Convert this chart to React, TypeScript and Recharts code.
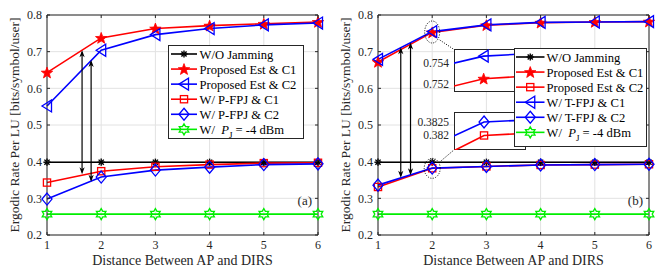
import React from 'react';
import { LineChart, Line, XAxis, YAxis, CartesianGrid, ReferenceLine, ReferenceDot } from 'recharts';

// distance between AP and DIRS (x axis)
const DIST = [1, 2, 3, 4, 5, 6];
const Y_TICKS = [0.2, 0.3, 0.4, 0.5, 0.6, 0.7, 0.8];

// panel (a)
const A_WO_JAM = [0.3985, 0.3985, 0.3985, 0.3985, 0.3985, 0.3985];
const A_EST_C1 = [0.643, 0.7375, 0.763, 0.771, 0.776, 0.781];
const A_EST_C2 = [0.552, 0.704, 0.7465, 0.763, 0.773, 0.778];
const A_PFPJ_C1 = [0.343, 0.374, 0.386, 0.392, 0.396, 0.397];
const A_PFPJ_C2 = [0.298, 0.358, 0.377, 0.385, 0.392, 0.394];
const A_PJ = [0.257, 0.257, 0.257, 0.257, 0.257, 0.257];

// panel (b)
const B_WO_JAM = [0.3985, 0.3985, 0.3985, 0.3985, 0.3985, 0.3985];
const B_EST_C1 = [0.672, 0.7525, 0.772, 0.779, 0.781, 0.782];
const B_EST_C2 = [0.331, 0.382, 0.387, 0.391, 0.392, 0.393];
const B_TFPJ_C1 = [0.679, 0.7547, 0.773, 0.78, 0.781, 0.782];
const B_TFPJ_C2 = [0.336, 0.3825, 0.387, 0.391, 0.392, 0.393];
const B_PJ = [0.257, 0.257, 0.257, 0.257, 0.257, 0.257];

// double arrows (annotation positions in data units)
const A_ARROWS = [
  { x: 1.647, top: 0.704, bottom: 0.366 },
  { x: 1.814, top: 0.677, bottom: 0.345 },
];
const B_ARROWS = [
  { x: 1.42, top: 0.712, bottom: 0.356 },
  { x: 1.6, top: 0.725, bottom: 0.363 },
];

const W = 331;
const H = 268;
const PLOT_L = 47;
const PLOT_R = 318;
const PLOT_T = 15;
const PLOT_B = 235;
const AXIS = '#262626';
const FONT = '"Liberation Serif", "Times New Roman", serif';

const RED = '#ff0000';
const BLUE = '#0000ff';
const GREEN = '#00ee00';

type Kind = 'asterisk' | 'star' | 'triLeft' | 'square' | 'diamond' | 'hexagram';

function starPoints(cx: number, cy: number, n: number, R: number, r: number) {
  const pts: string[] = [];
  for (let i = 0; i < n * 2; i++) {
    const a = (-90 + (i * 180) / n) * (Math.PI / 180);
    const rr = i % 2 === 0 ? R : r;
    pts.push(`${cx + rr * Math.cos(a)},${cy + rr * Math.sin(a)}`);
  }
  return pts.join(' ');
}

function Marker({ kind, cx, cy, color }: { kind: Kind; cx: number; cy: number; color: string }) {
  const sw = 1.3;
  switch (kind) {
    case 'asterisk': {
      const r = 3.6;
      const d = r * 0.72;
      return (
        <g stroke={color} strokeWidth={1.4}>
          <line x1={cx - r} x2={cx + r} y1={cy} y2={cy} />
          <line x1={cx} x2={cx} y1={cy - r} y2={cy + r} />
          <line x1={cx - d} x2={cx + d} y1={cy - d} y2={cy + d} />
          <line x1={cx - d} x2={cx + d} y1={cy + d} y2={cy - d} />
        </g>
      );
    }
    case 'star':
      return <polygon points={starPoints(cx, cy + 0.5, 5, 6, 2.5)} fill={color} stroke={color} strokeWidth={0.8} />;
    case 'triLeft':
      return (
        <polygon
          points={`${cx - 5},${cy} ${cx + 4.5},${cy - 6} ${cx + 4.5},${cy + 6}`}
          fill="none"
          stroke={color}
          strokeWidth={sw}
        />
      );
    case 'square':
      return <rect x={cx - 3.6} y={cy - 3.6} width={7.2} height={7.2} fill="none" stroke={color} strokeWidth={sw} />;
    case 'diamond':
      return (
        <polygon
          points={`${cx},${cy - 6} ${cx + 5},${cy} ${cx},${cy + 6} ${cx - 5},${cy}`}
          fill="none"
          stroke={color}
          strokeWidth={sw}
        />
      );
    case 'hexagram':
      return <polygon points={starPoints(cx, cy, 6, 5.5, 3.2)} fill="none" stroke={color} strokeWidth={sw} />;
  }
  return null;
}

interface Series {
  key: string;
  values: number[];
  color: string;
  kind: Kind;
  label: React.ReactNode;
}

const PJ_LABEL = (
  <>
    W/{'\u00a0\u00a0'}
    <tspan fontStyle="italic">P</tspan>
    <tspan fontSize={9} dy={4}>J</tspan>
    <tspan dy={-4}> = -4 dBm</tspan>
  </>
);

const A_SERIES: Series[] = [
  { key: 'woJam', values: A_WO_JAM, color: '#000', kind: 'asterisk', label: 'W/O Jamming' },
  { key: 'estC1', values: A_EST_C1, color: RED, kind: 'star', label: 'Proposed Est & C1' },
  { key: 'estC2', values: A_EST_C2, color: BLUE, kind: 'triLeft', label: 'Proposed Est & C2' },
  { key: 'pC1', values: A_PFPJ_C1, color: RED, kind: 'square', label: 'W/ P-FPJ & C1' },
  { key: 'pC2', values: A_PFPJ_C2, color: BLUE, kind: 'diamond', label: 'W/ P-FPJ & C2' },
  { key: 'pj', values: A_PJ, color: GREEN, kind: 'hexagram', label: PJ_LABEL },
];

const B_SERIES: Series[] = [
  { key: 'woJam', values: B_WO_JAM, color: '#000', kind: 'asterisk', label: 'W/O Jamming' },
  { key: 'estC1', values: B_EST_C1, color: RED, kind: 'star', label: 'Proposed Est & C1' },
  { key: 'estC2', values: B_EST_C2, color: RED, kind: 'square', label: 'Proposed Est & C2' },
  { key: 'tC1', values: B_TFPJ_C1, color: BLUE, kind: 'triLeft', label: 'W/ T-FPJ & C1' },
  { key: 'tC2', values: B_TFPJ_C2, color: BLUE, kind: 'diamond', label: 'W/ T-FPJ & C2' },
  { key: 'pj', values: B_PJ, color: GREEN, kind: 'hexagram', label: PJ_LABEL },
];

function toRows(series: Series[]) {
  return DIST.map((x, i) => {
    const row: Record<string, number> = { x };
    series.forEach((s) => (row[s.key] = s.values[i]));
    return row;
  });
}

const A_ROWS = toRows(A_SERIES);
const B_ROWS = toRows(B_SERIES);

const XTick = (p: any) => {
  const { x, y, payload } = p;
  return (
    <g>
      <line x1={x} x2={x} y1={PLOT_B} y2={PLOT_B - 3} stroke={AXIS} />
      <line x1={x} x2={x} y1={PLOT_T} y2={PLOT_T + 3} stroke={AXIS} />
      <text x={x} y={y} dy="0.71em" textAnchor="middle" fontSize={12} fontFamily={FONT} fill={AXIS}>
        {payload.value}
      </text>
    </g>
  );
};

const YTick = (p: any) => {
  const { x, y, payload } = p;
  return (
    <g>
      <line x1={PLOT_L} x2={PLOT_L + 3} y1={y} y2={y} stroke={AXIS} />
      <line x1={PLOT_R} x2={PLOT_R - 3} y1={y} y2={y} stroke={AXIS} />
      <text x={x} y={y} dy="0.35em" textAnchor="end" fontSize={12} fontFamily={FONT} fill={AXIS}>
        {Number(payload.value).toFixed(1)}
      </text>
    </g>
  );
};

const ArrowShape = (p: any) => {
  const { x1, y1, y2 } = p;
  const top = Math.min(y1, y2);
  const bot = Math.max(y1, y2);
  const hl = 7;
  const hw = 2.6;
  return (
    <g>
      <line x1={x1} x2={x1} y1={top + 2} y2={bot - 2} stroke="#000" strokeWidth={1.2} />
      <polygon points={`${x1},${top} ${x1 - hw},${top + hl} ${x1},${top + hl - 2} ${x1 + hw},${top + hl}`} fill="#000" />
      <polygon points={`${x1},${bot} ${x1 - hw},${bot - hl} ${x1},${bot - hl + 2} ${x1 + hw},${bot - hl}`} fill="#000" />
    </g>
  );
};

function seriesLines(series: Series[]) {
  return series.map((s) => (
    <Line
      key={s.key}
      type="linear"
      dataKey={s.key}
      stroke={s.color}
      strokeWidth={1.6}
      isAnimationActive={false}
      dot={(p: any) => <Marker key={`${s.key}-${p.index}`} kind={s.kind} cx={p.cx} cy={p.cy} color={s.color} />}
      activeDot={false}
    />
  ));
}

function Panel({
  rows,
  series,
  arrows,
  extra,
}: {
  rows: Record<string, number>[];
  series: Series[];
  arrows: { x: number; top: number; bottom: number }[];
  extra?: React.ReactNode;
}) {
  return (
    <LineChart width={W} height={H} data={rows} margin={{ top: PLOT_T, right: W - PLOT_R, bottom: 0, left: 0 }}>
      <CartesianGrid stroke="#e2e2e2" />
      <XAxis
        type="number"
        dataKey="x"
        domain={[1, 6]}
        ticks={DIST}
        interval={0}
        height={H - PLOT_B}
        tickSize={0}
        tickMargin={5}
        tickLine={false}
        axisLine={{ stroke: AXIS }}
        tick={XTick}
      />
      <YAxis
        type="number"
        domain={[0.2, 0.8]}
        ticks={Y_TICKS}
        interval={0}
        width={PLOT_L}
        tickSize={0}
        tickMargin={5}
        tickLine={false}
        axisLine={{ stroke: AXIS }}
        tick={YTick}
      />
      <ReferenceLine y={0.8} stroke={AXIS} />
      <ReferenceLine x={6} stroke={AXIS} />
      {seriesLines(series)}
      {arrows.map((a, i) => (
        <ReferenceLine
          key={`arrow-${i}`}
          segment={[
            { x: a.x, y: a.top },
            { x: a.x, y: a.bottom },
          ]}
          stroke="#000"
          shape={ArrowShape}
        />
      ))}
      {extra}
    </LineChart>
  );
}

// zoomed-in views of panel (b) around distance 2
function Inset({
  left,
  top,
  width,
  height,
  xDomain,
  yDomain,
  yTicks,
  series,
}: {
  left: number;
  top: number;
  width: number;
  height: number;
  xDomain: [number, number];
  yDomain: [number, number];
  yTicks: number[];
  series: Series[];
}) {
  const LW = 40;
  return (
    <div style={{ position: 'absolute', left: left - LW, top, width: width + LW, height }}>
      <div
        style={{
          position: 'absolute',
          left: LW,
          top: 0,
          width,
          height,
          background: '#fff',
          border: `1px solid ${AXIS}`,
          boxSizing: 'border-box',
        }}
      />
      <div style={{ position: 'absolute', left: 0, top: 0 }}>
        <LineChart width={width + LW} height={height} data={B_ROWS} margin={{ top: 0, right: 0, bottom: 0, left: 0 }}>
          <XAxis hide type="number" dataKey="x" domain={xDomain} allowDataOverflow />
          <YAxis
            type="number"
            width={LW}
            domain={yDomain}
            allowDataOverflow
            ticks={yTicks}
            interval={0}
            axisLine={false}
            tickLine={false}
            tickSize={0}
            tickMargin={5}
            tick={(p: any) => (
              <text x={p.x} y={p.y} dy="0.35em" textAnchor="end" fontSize={11.5} fontFamily={FONT} fill={AXIS}>
                {String(p.payload.value)}
              </text>
            )}
          />
          {seriesLines(series)}
        </LineChart>
      </div>
    </div>
  );
}

function Legend({
  left,
  top,
  width,
  height,
  series,
  lineX0,
  lineX1,
  textX,
}: {
  left: number;
  top: number;
  width: number;
  height: number;
  series: Series[];
  lineX0: number;
  lineX1: number;
  textX: number;
}) {
  return (
    <svg style={{ position: 'absolute', left, top }} width={width} height={height}>
      <rect x={0.5} y={0.5} width={width - 1} height={height - 1} fill="#fff" stroke={AXIS} />
      {series.map((s, i) => {
        const cy = 9 + i * 15.07;
        return (
          <g key={s.key}>
            <line x1={lineX0} x2={lineX1} y1={cy} y2={cy} stroke={s.color} strokeWidth={1.6} />
            <Marker kind={s.kind} cx={(lineX0 + lineX1) / 2} cy={cy} color={s.color} />
            <text x={textX} y={cy + 4.5} fontSize={12.6} fontFamily={FONT} fill="#000">
              {s.label}
            </text>
          </g>
        );
      })}
    </svg>
  );
}

const ellipse = (rx: number, ry: number) => (p: any) =>
  <ellipse cx={p.cx} cy={p.cy} rx={rx} ry={ry} fill="none" stroke="#000" strokeWidth={1} strokeDasharray="1 1.5" />;

const B_EXTRA = [
  <ReferenceDot key="e1" x={2} y={0.7536} r={1} shape={ellipse(7.5, 11)} />,
  <ReferenceDot key="e2" x={2} y={0.3818} r={1} shape={ellipse(8, 10)} />,
  <ReferenceLine
    key="c1"
    segment={[
      { x: 2.14, y: 0.7318 },
      { x: 2.4, y: 0.7062 },
    ]}
    stroke="#000"
    strokeDasharray="1 1.5"
  />,
  <ReferenceLine
    key="c2"
    segment={[
      { x: 2.16, y: 0.4018 },
      { x: 2.4, y: 0.4318 },
    ]}
    stroke="#000"
    strokeDasharray="1 1.5"
  />,
];

export default function App() {
  const yTitle = 'Ergodic Rate Per LU [bits/symbol/user]';
  const xTitle = 'Distance Between AP and DIRS';
  const midY = (PLOT_T + PLOT_B) / 2;
  const midX = (PLOT_L + PLOT_R) / 2;
  return (
    <div style={{ position: 'absolute', left: 0, top: 0, width: 2 * W, height: H, background: '#fff', fontFamily: FONT }}>
      <div style={{ position: 'absolute', left: 0, top: 0 }}>
        <Panel rows={A_ROWS} series={A_SERIES} arrows={A_ARROWS} />
      </div>
      <div style={{ position: 'absolute', left: W, top: 0 }}>
        <Panel rows={B_ROWS} series={B_SERIES} arrows={B_ARROWS} extra={B_EXTRA} />
      </div>

      <Inset
        left={454}
        top={49}
        width={72}
        height={43}
        xDomain={[1.9911, 2.0127]}
        yDomain={[0.7512, 0.7554]}
        yTicks={[0.752, 0.754]}
        series={[B_SERIES[1], B_SERIES[3]]}
      />
      <Inset
        left={454}
        top={112}
        width={72}
        height={38}
        xDomain={[1.9889, 2.0155]}
        yDomain={[0.38146, 0.38287]}
        yTicks={[0.382, 0.3825]}
        series={[B_SERIES[2], B_SERIES[4]]}
      />

      <Legend left={168} top={45} width={136} height={94} series={A_SERIES} lineX0={3} lineX1={29} textX={31.5} />
      <Legend left={514} top={48} width={133} height={99} series={B_SERIES} lineX0={2} lineX1={30.5} textX={32.5} />

      <svg style={{ position: 'absolute', left: 0, top: 0, pointerEvents: 'none' }} width={2 * W} height={H}>
        {[0, W].map((off, i) => (
          <g key={i} fontFamily={FONT} fill={AXIS}>
            <text
              x={off + 14}
              y={midY}
              fontSize={13.5}
              textAnchor="middle"
              dominantBaseline="central"
              transform={`rotate(-90 ${off + 14} ${midY})`}
            >
              {yTitle}
            </text>
            <text x={off + midX} y={265} fontSize={14} textAnchor="middle">
              {xTitle}
            </text>
            <text x={off + 312} y={205} fontSize={13} textAnchor="end">
              {i === 0 ? '(a)' : '(b)'}
            </text>
          </g>
        ))}
      </svg>
    </div>
  );
}
